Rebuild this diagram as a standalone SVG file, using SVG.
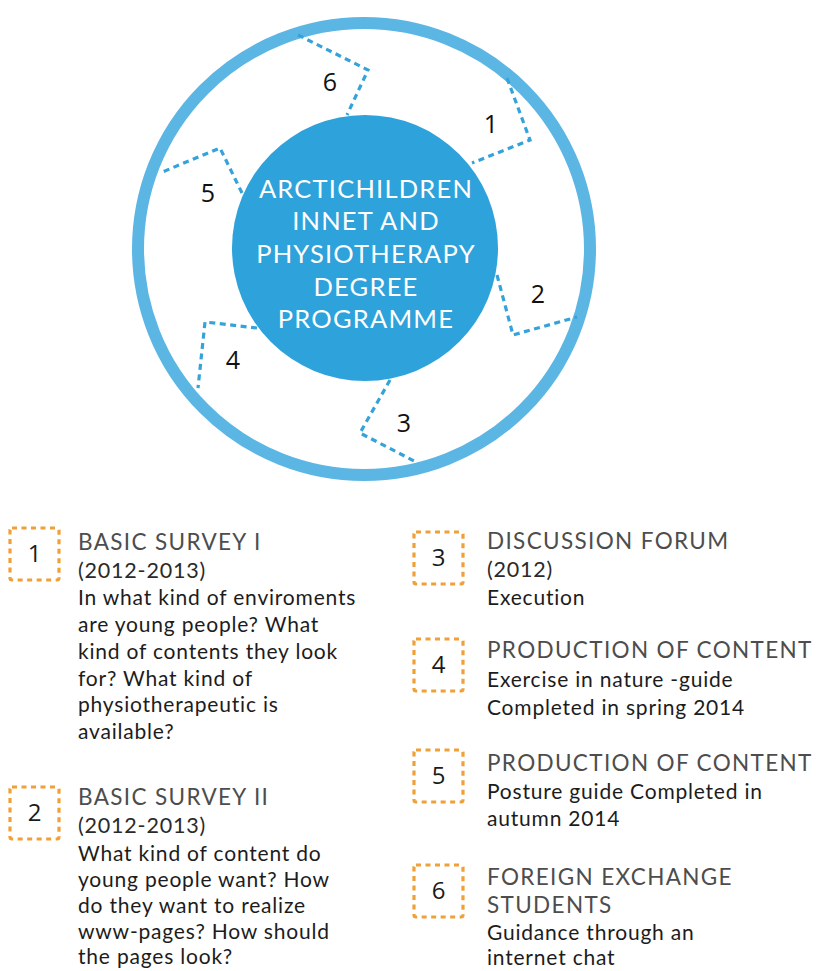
<svg xmlns="http://www.w3.org/2000/svg" width="817" height="971" viewBox="0 0 817 971">
<style>
.ring{fill:none;stroke:#5cb6e4;stroke-width:12}
.hub{fill:#2ea2da}
.hubt{font-family:Lato,"Noto Sans",sans-serif;font-size:25.5px;fill:#fff;text-anchor:middle;letter-spacing:1.2px}
.dash{fill:none;stroke:#35a3d9;stroke-width:3.2;stroke-dasharray:6 4.5}
.num{font-family:"Open Sans","Noto Sans",sans-serif;font-size:25px;fill:#111;text-anchor:middle}
.box{fill:none;stroke:#f0a038;stroke-width:3.2;stroke-dasharray:5 4.5}
.bnum{font-family:"Open Sans","Noto Sans",sans-serif;font-size:24px;fill:#1a1a1a;text-anchor:middle}
.hd{font-family:Lato,"Noto Sans",sans-serif;font-size:22.5px;fill:#4d4d4d;letter-spacing:1.35px}
.bd{font-family:Lato,"Noto Sans",sans-serif;font-size:21px;fill:#1c1c1c;letter-spacing:0.8px}
.yr{font-family:Lato,"Noto Sans",sans-serif;font-size:21.5px;fill:#2a2a2a;letter-spacing:0.8px}
</style>
<rect width="817" height="971" fill="#fff"/>
<g id="ring"><circle class="ring" cx="364" cy="249" r="226"/></g>
<g id="connectors">
<path class="dash" d="M298,35 L368,70 L347,115"/>
<path class="dash" d="M507,78 L530,140 L472,163"/>
<path class="dash" d="M497,275 L513,335 L577,317"/>
<path class="dash" d="M390,380 L360,433 L418,463"/>
<path class="dash" d="M257,328 L205,322 L198,388"/>
<path class="dash" d="M242,193 L220,148 L160,173"/>
</g>
<g id="hub">
<circle class="hub" cx="365" cy="248" r="133"/>
<text class="hubt" x="366" y="198">ARCTICHILDREN</text>
<text class="hubt" x="366" y="230">INNET AND</text>
<text class="hubt" x="366" y="263">PHYSIOTHERAPY</text>
<text class="hubt" x="366" y="296">DEGREE</text>
<text class="hubt" x="366" y="328">PROGRAMME</text>
</g>
<g id="labels">
<text class="num" x="330" y="91">6</text>
<text class="num" x="491" y="133">1</text>
<text class="num" x="538" y="303">2</text>
<text class="num" x="404" y="432">3</text>
<text class="num" x="233" y="369">4</text>
<text class="num" x="208" y="202">5</text>
</g>
<g id="item1">
<rect class="box" x="10" y="528" width="49" height="52" rx="2"/>
<text class="bnum" x="34.5" y="562">1</text>
<text class="hd" x="78" y="550">BASIC SURVEY I</text>
<text class="yr" x="78" y="578">(2012-2013)</text>
<text class="bd" x="78" y="605">In what kind of enviroments</text>
<text class="bd" x="78" y="632">are young people? What</text>
<text class="bd" x="78" y="659">kind of contents they look</text>
<text class="bd" x="78" y="686">for? What kind of</text>
<text class="bd" x="78" y="712">physiotherapeutic is</text>
<text class="bd" x="78" y="739">available?</text>
</g>
<g id="item2">
<rect class="box" x="10" y="787" width="49" height="52" rx="2"/>
<text class="bnum" x="34.5" y="821">2</text>
<text class="hd" x="78" y="805">BASIC SURVEY II</text>
<text class="yr" x="78" y="833">(2012-2013)</text>
<text class="bd" x="78" y="861">What kind of content do</text>
<text class="bd" x="78" y="887">young people want? How</text>
<text class="bd" x="78" y="913">do they want to realize</text>
<text class="bd" x="78" y="939">www-pages? How should</text>
<text class="bd" x="78" y="964">the pages look?</text>
</g>
<g id="item3">
<rect class="box" x="414" y="532" width="49" height="52" rx="2"/>
<text class="bnum" x="438.5" y="566">3</text>
<text class="hd" x="487" y="549">DISCUSSION FORUM</text>
<text class="yr" x="487" y="577">(2012)</text>
<text class="bd" x="487" y="605">Execution</text>
</g>
<g id="item4">
<rect class="box" x="414" y="639" width="49" height="52" rx="2"/>
<text class="bnum" x="438.5" y="673">4</text>
<text class="hd" x="487" y="658">PRODUCTION OF CONTENT</text>
<text class="bd" x="487" y="687">Exercise in nature -guide</text>
<text class="bd" x="487" y="715">Completed in spring 2014</text>
</g>
<g id="item5">
<rect class="box" x="414" y="750" width="49" height="52" rx="2"/>
<text class="bnum" x="438.5" y="784">5</text>
<text class="hd" x="487" y="771">PRODUCTION OF CONTENT</text>
<text class="bd" x="487" y="799">Posture guide Completed in</text>
<text class="bd" x="487" y="826">autumn 2014</text>
</g>
<g id="item6">
<rect class="box" x="414" y="865" width="49" height="52" rx="2"/>
<text class="bnum" x="438.5" y="899">6</text>
<text class="hd" x="487" y="885">FOREIGN EXCHANGE</text>
<text class="hd" x="487" y="913">STUDENTS</text>
<text class="bd" x="487" y="940">Guidance through an</text>
<text class="bd" x="487" y="965">internet chat</text>
</g>
</svg>
